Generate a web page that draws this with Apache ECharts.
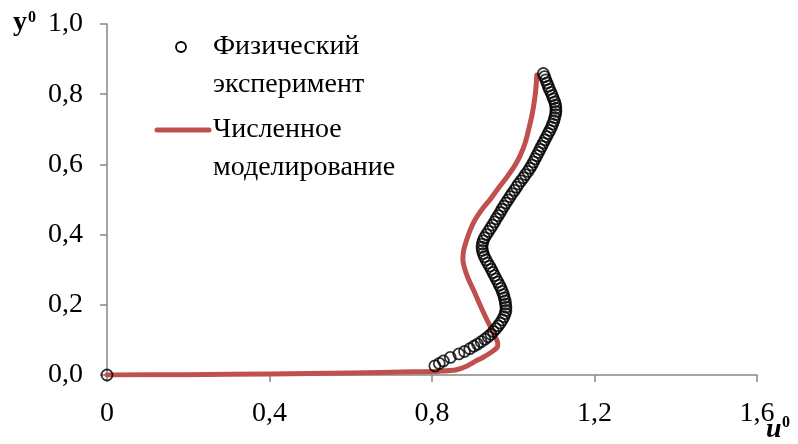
<!DOCTYPE html>
<html><head><meta charset="utf-8">
<script src="https://cdn.jsdelivr.net/npm/echarts@6/dist/echarts.min.js"></script>
<style>html,body{margin:0;padding:0;background:#fff}#c{width:798px;height:444px}</style>
</head><body><div id="c"></div>
<script>
var xTicks = [0, 0.4, 0.8, 1.2, 1.6];
var yTicks = [0, 0.2, 0.4, 0.6, 0.8, 1.0];
var seriesNames = ['Физический\nэксперимент', 'Численное\nмоделирование'];
var expU = [0, 0.807,0.818,0.828,0.845,0.866,0.880,0.893,0.903,0.912,0.921,0.930,0.938,0.945,0.951,0.957,0.963,0.968,0.973,0.977,0.980,0.982,0.982,0.981,0.980,0.978,0.976,0.973,0.970,0.966,0.962,0.958,0.954,0.950,0.946,0.942,0.937,0.933,0.929,0.926,0.924,0.923,0.924,0.926,0.929,0.934,0.939,0.944,0.949,0.954,0.958,0.963,0.968,0.972,0.977,0.982,0.987,0.992,0.997,1.003,1.008,1.013,1.019,1.025,1.030,1.036,1.041,1.046,1.050,1.054,1.058,1.062,1.066,1.070,1.074,1.078,1.082,1.086,1.090,1.094,1.097,1.100,1.102,1.104,1.105,1.105,1.104,1.102,1.099,1.096,1.093,1.089,1.086,1.083,1.080,1.077,1.074];
var expY = [0, 0.026,0.033,0.040,0.050,0.060,0.067,0.075,0.082,0.088,0.095,0.102,0.109,0.116,0.124,0.132,0.140,0.148,0.157,0.166,0.175,0.184,0.193,0.202,0.211,0.220,0.229,0.238,0.247,0.256,0.265,0.274,0.283,0.292,0.301,0.310,0.319,0.328,0.337,0.346,0.355,0.364,0.373,0.382,0.391,0.400,0.409,0.418,0.427,0.436,0.445,0.454,0.463,0.472,0.481,0.490,0.499,0.508,0.517,0.526,0.535,0.544,0.553,0.562,0.571,0.580,0.589,0.598,0.607,0.616,0.625,0.634,0.643,0.652,0.661,0.670,0.679,0.688,0.697,0.706,0.715,0.724,0.733,0.742,0.751,0.760,0.769,0.778,0.787,0.796,0.805,0.814,0.823,0.832,0.841,0.850,0.859];
var numU = [0,0.2,0.4,0.6,0.75,0.82,0.86,0.885,0.905,0.925,0.945,0.960,0.962,0.955,0.945,0.932,0.918,0.903,0.889,0.880,0.876,0.878,0.884,0.893,0.905,0.922,0.943,0.965,0.985,1.003,1.017,1.029,1.038,1.046,1.052,1.056,1.058];
var numY = [0,0.001,0.003,0.006,0.009,0.011,0.015,0.025,0.038,0.050,0.064,0.078,0.090,0.110,0.135,0.165,0.200,0.240,0.275,0.305,0.330,0.355,0.380,0.410,0.440,0.470,0.500,0.535,0.565,0.595,0.625,0.660,0.700,0.740,0.780,0.820,0.855];

function zip(a,b){return a.map(function(v,i){return [v,b[i]];});}
var FONT = '"Liberation Serif","Times New Roman",serif';
var FS = 28;
var axisCol = '#868686';
var chart = echarts.init(document.getElementById('c'), null, {renderer:'canvas'});
chart.setOption({
  animation:false,
  backgroundColor:'#fff',
  grid:{left:107, right:41, top:24, bottom:69},
  xAxis:{type:'value', min:xTicks[0], max:xTicks[xTicks.length-1], interval:0.4,
    axisLine:{lineStyle:{color:axisCol,width:1.5}},
    axisTick:{show:true,length:7,inside:false,lineStyle:{color:axisCol,width:1.5}},
    splitLine:{show:false},
    axisLabel:{margin:25,color:'#000',fontFamily:FONT,fontSize:FS,
      formatter:function(v){return v===0?'0':v.toFixed(1).replace('.',',');}}},
  yAxis:{type:'value', min:yTicks[0], max:yTicks[yTicks.length-1], interval:0.2,
    axisLine:{show:true,lineStyle:{color:axisCol,width:1.5}},
    axisTick:{show:true,length:7,inside:false,lineStyle:{color:axisCol,width:1.5}},
    splitLine:{show:false},
    axisLabel:{margin:24,color:'#000',fontFamily:FONT,fontSize:FS,
      formatter:function(v){return v.toFixed(1).replace('.',',');}}},
  series:[
    {name:seriesNames[1], type:'line', data:zip(numU,numY), showSymbol:false, symbol:'none', smooth:0.3,
      lineStyle:{color:'#C0504D',width:5,cap:'round',join:'round'}, z:2},
    {name:seriesNames[0], type:'scatter', data:zip(expU,expY), symbol:'circle', symbolSize:11,
      itemStyle:{color:'rgba(0,0,0,0)',borderColor:'#000',borderWidth:1.8}, z:3}
  ],
  graphic:[
    {type:'circle', shape:{cx:181,cy:47,r:5}, style:{fill:'none',stroke:'#000',lineWidth:1.8}},
    {type:'text', left:213, top:28, style:{text:seriesNames[0], fontFamily:FONT, fontSize:FS, lineHeight:38, fill:'#000'}},
    {type:'line', shape:{x1:157,y1:130,x2:209,y2:130}, style:{stroke:'#C0504D',lineWidth:5,lineCap:'round'}},
    {type:'text', left:213, top:111, style:{text:seriesNames[1], fontFamily:FONT, fontSize:FS, lineHeight:38, fill:'#000'}},
    {type:'text', left:13, top:9, style:{text:'y', fontFamily:FONT, fontSize:FS, fontWeight:'bold', fill:'#000'}},
    {type:'text', left:28, top:10, style:{text:'0', fontFamily:FONT, fontSize:16, fontWeight:'bold', fill:'#000'}},
    {type:'text', left:766, top:416, style:{text:'u', fontFamily:FONT, fontSize:FS, fontWeight:'bold', fontStyle:'italic', fill:'#000'}},
    {type:'text', left:782, top:415, style:{text:'0', fontFamily:FONT, fontSize:16, fontWeight:'bold', fill:'#000'}}
  ]
});
</script></body></html>
